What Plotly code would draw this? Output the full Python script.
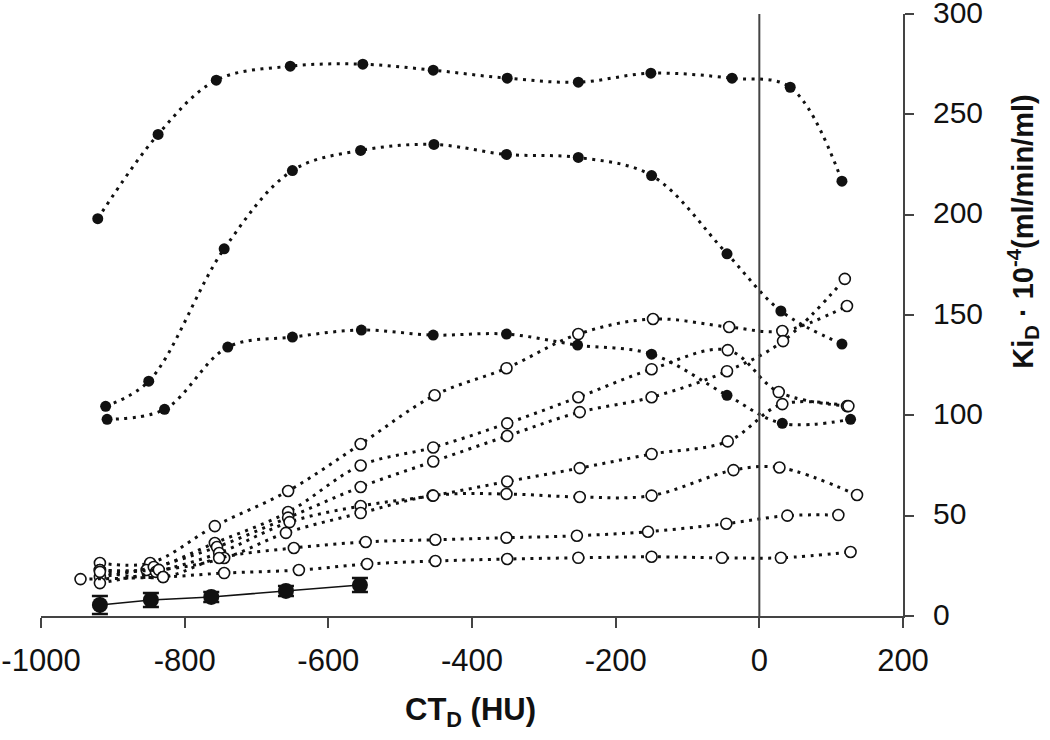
import plotly.graph_objects as go

# ---- data ----
# filled-circle series (Ki_D vs CT_D)
f1_x = [-921, -837, -756, -653, -552, -454, -351, -252, -151, -38, 43, 115]
f1_y = [198, 240, 267, 274, 275, 272, 268, 266, 270.5, 268, 263.5, 216.7]
f2_x = [-910, -850, -745, -650, -555, -453, -352, -252, -150, -45, 30, 115]
f2_y = [104.5, 117, 183, 222, 232, 235, 230, 228.5, 219.5, 180.5, 152, 135.5]
f3_x = [-908, -828, -740, -650, -554, -454, -352, -253, -150, -45, 32, 127]
f3_y = [98, 103, 134, 139, 142.5, 140, 140.5, 135, 130.5, 110, 96, 98]

# open-circle series
o1_x = [-918, -848, -758, -656, -555, -452, -352, -252, -148, -42, 32, 122]
o1_y = [26.4, 26.4, 44.8, 62.3, 85.7, 110, 123.5, 140.5, 148, 144, 142, 154.5]
o2_x = [-918, -853, -758, -656, -555, -454, -351, -252, -150, -44, 27, 122]
o2_y = [22.9, 22.9, 36.4, 51.8, 75, 84, 96, 109, 123, 132.5, 111.6, 104.6]
o3_x = [-918, -843, -755, -656, -555, -454, -351, -250, -150, -45, 33, 119]
o3_y = [19.4, 24.4, 34.4, 49, 64.3, 77, 89.7, 101.6, 109, 122, 137, 168]
o4_x = [-918, -840, -752, -654, -555, -455, -351, -250, -150, -44, 32, 124]
o4_y = [16.4, 22, 31.4, 46.8, 54.8, 60, 67, 73.7, 80.7, 87, 105.6, 104.6]
o5_x = [-918, -836, -745, -659, -555, -454, -352, -250, -150, -36, 28, 136]
o5_y = [22.9, 23, 28.9, 41.4, 51.3, 60, 60.8, 59.3, 60, 72.7, 74, 60.3]
o6_x = [-918, -830, -752, -648, -548, -451, -352, -254, -155, -46, 39, 110]
o6_y = [22, 19.4, 28.9, 33.9, 36.9, 38, 39, 40, 42, 46, 50, 50.3]
o7_x = [-945, -830, -745, -641, -546, -451, -351, -252, -150, -52, 30, 127]
o7_y = [18.4, 19.4, 21.4, 22.9, 25.9, 27.4, 28.4, 29, 29.5, 29, 29, 31.9]

# mean series with error bars
m_x = [-918, -847, -763, -659, -556]
m_y = [5.5, 8, 9.5, 12.5, 15.4]
m_err = [4.5, 3.5, 2.5, 2.5, 3.5]

x_ticks = [-1000, -800, -600, -400, -200, 0, 200]
y_ticks = [0, 50, 100, 150, 200, 250, 300]

DOT = "3px,5.5px"
fig = go.Figure()

for xs, ys in [(o1_x, o1_y), (o2_x, o2_y), (o3_x, o3_y), (o4_x, o4_y),
               (o5_x, o5_y), (o6_x, o6_y), (o7_x, o7_y)]:
    fig.add_trace(go.Scatter(
        x=xs, y=ys, mode="lines+markers",
        line=dict(color="#111", width=3, dash=DOT, shape="spline", smoothing=1),
        marker=dict(symbol="circle", size=11, color="white",
                    line=dict(color="#111", width=1.6)),
        showlegend=False, cliponaxis=False))

for xs, ys in [(f1_x, f1_y), (f2_x, f2_y), (f3_x, f3_y)]:
    fig.add_trace(go.Scatter(
        x=xs, y=ys, mode="lines+markers",
        line=dict(color="#111", width=3, dash=DOT, shape="spline", smoothing=1),
        marker=dict(symbol="circle", size=11, color="#111"),
        showlegend=False, cliponaxis=False))

fig.add_trace(go.Scatter(
    x=m_x, y=m_y, mode="lines+markers",
    line=dict(color="#111", width=1.5),
    marker=dict(symbol="circle", size=16, color="#111"),
    error_y=dict(type="data", array=m_err, visible=True, color="#111",
                 thickness=2.5, width=8),
    showlegend=False, cliponaxis=False))

# vertical reference line at x = 0
fig.add_shape(type="line", x0=0, x1=0, y0=0, y1=300, xref="x", yref="y",
              line=dict(color="#444", width=2))

fig.update_layout(
    width=1050, height=740,
    margin=dict(l=41, r=147, t=14, b=124),
    paper_bgcolor="white", plot_bgcolor="white",
    font=dict(family="Liberation Sans, Arial, sans-serif", color="#111"),
    xaxis=dict(range=[-1000, 200], tickvals=x_ticks, ticktext=[str(v) for v in x_ticks],
               showgrid=False, zeroline=False, showline=True, linecolor="#444",
               linewidth=2, ticks="outside", ticklen=10, tickwidth=1.5, tickcolor="#444",
               tickfont=dict(size=31), ticklabelstandoff=6, automargin=False,
               ticklabeloverflow="allow"),
    yaxis=dict(range=[0, 300], tickvals=y_ticks, side="right", showgrid=False,
               zeroline=False, showline=True, linecolor="#444", linewidth=2,
               ticks="outside", ticklen=9, tickwidth=1.5, tickcolor="#444",
               tickfont=dict(size=30), ticklabelstandoff=13, ticklabelshift=-2,
               automargin=False, ticklabeloverflow="allow"),
    annotations=[
        dict(text="<b>Ki<sub>D</sub> · 10<sup>-4</sup>(ml/min/ml)</b>",
             xref="paper", yref="paper", x=1.139, y=0.638, textangle=-90,
             showarrow=False, font=dict(size=29), xanchor="center", yanchor="middle"),
        dict(text="<b>CT<sub>D</sub> (HU)</b>",
             xref="paper", yref="paper", x=0.4977, y=-0.159,
             showarrow=False, font=dict(size=31), xanchor="center", yanchor="middle"),
    ],
)

fig.write_html("out.html", config={"displayModeBar": False},
               post_script="document.body.style.margin='0px';document.body.style.overflow='hidden';")
